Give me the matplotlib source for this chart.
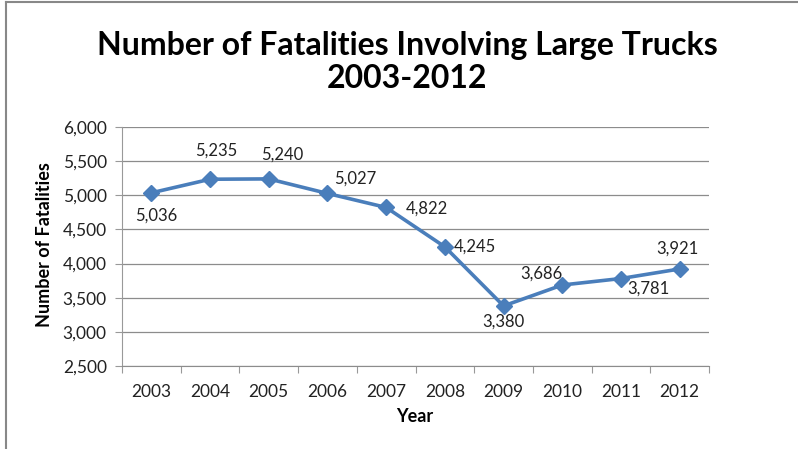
import matplotlib.pyplot as plt
from matplotlib.lines import Line2D

plt.rcParams['font.family'] = ['Lato', 'DejaVu Sans']

# Datos
years = ['2003', '2004', '2005', '2006', '2007', '2008', '2009', '2010', '2011', '2012']
fatalities = [5036, 5235, 5240, 5027, 4822, 4245, 3380, 3686, 3781, 3921]

# Desplazamiento de las etiquetas (puntos)
label_offsets = [(3.6, -16.6), (4.3, 20.9), (10, 17.3), (20, 10.8), (29.5, -0.7),
                 (21.6, 0), (0, -11), (-15, 8), (20, -7), (-1.4, 15)]

W, H = 798, 449
fig = plt.figure(figsize=(W / 100, H / 100), dpi=100)
ax = fig.add_axes([122 / W, 1 - 366 / H, (709 - 122) / W, (366 - 127) / H])

x = list(range(len(years)))
ax.plot(x, fatalities, color='#4A7EBB', lw=2.6, marker='D', markersize=8, zorder=3)

for xi, v, off in zip(x, fatalities, label_offsets):
    ax.annotate(f'{v:,}', (xi, v), xytext=off, textcoords='offset points',
                ha='center', va='center', fontsize=12, color='#222222')

ax.set_xlim(-0.5, len(years) - 0.5)
ax.set_ylim(2500, 6000)
ax.set_yticks(range(2500, 6001, 500))
ax.set_yticklabels([f'{v:,}' for v in range(2500, 6001, 500)])
ax.set_xticks(x)
ax.set_xticklabels(years)
ax.set_xticks([i - 0.5 for i in range(len(years) + 1)], minor=True)
ax.tick_params(axis='x', which='major', length=0, pad=13, labelsize=12.5, labelcolor='#222222')
ax.tick_params(axis='x', which='minor', length=5, color='#999999', width=0.8)
ax.tick_params(axis='y', length=5, color='#999999', width=0.8, pad=6, labelsize=12.5, labelcolor='#222222')

ax.grid(axis='y', color='#8c8c8c', lw=0.9)
ax.set_axisbelow(True)
for s in ['top', 'right']:
    ax.spines[s].set_visible(False)
ax.spines['left'].set_color('#999999')
ax.spines['bottom'].set_color('#8c8c8c')

fig.text(45 / W, 1 - 245 / H, 'Number of Fatalities', rotation=90, ha='center', va='center',
         fontsize=13, fontweight='bold')
fig.text(415 / W, 1 - 417 / H, 'Year', ha='center', va='center', fontsize=13, fontweight='bold')

fig.text(407 / W, 1 - 45 / H, 'Number of Fatalities Involving Large Trucks', ha='center', va='center',
         fontsize=23, fontweight='bold')
fig.text(407 / W, 1 - 78 / H, '2003-2012', ha='center', va='center', fontsize=23, fontweight='bold')

# Borde
fig.add_artist(Line2D([6 / W, 6 / W], [0, 1 - 2 / H], color='#888888', lw=1.5))
fig.add_artist(Line2D([6 / W, 1], [1 - 2 / H, 1 - 2 / H], color='#888888', lw=1.5))

fig.savefig('out.png', dpi=100)
